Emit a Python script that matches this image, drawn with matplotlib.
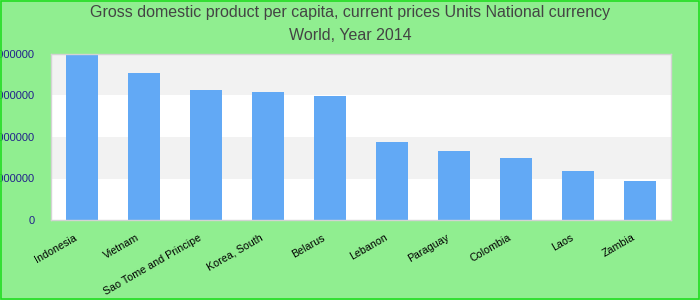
import matplotlib
matplotlib.use('Agg')
import matplotlib.pyplot as plt
from matplotlib.patches import Rectangle
from matplotlib.transforms import ScaledTranslation

# data
countries = ['Indonesia', 'Vietnam', 'Sao Tome and Principe', 'Korea, South', 'Belarus',
             'Lebanon', 'Paraguay', 'Colombia', 'Laos', 'Zambia']
gdp_per_capita = [39950000, 35400000, 31300000, 30800000, 29900000,
                  18800000, 16600000, 14900000, 11800000, 9400000]
y_ticks = [0, 10000000, 20000000, 30000000, 40000000]

plt.rcParams['font.family'] = ['Liberation Sans', 'DejaVu Sans']

fig = plt.figure(figsize=(7, 3), dpi=100, facecolor='#90ee90')
ax = fig.add_axes([51 / 700, 80 / 300, 620 / 700, 166 / 300])
ax.set_facecolor('white')

# alternating horizontal bands
for i in range(len(y_ticks) - 1):
    if i % 2 == 1:
        ax.axhspan(y_ticks[i], y_ticks[i + 1], color='#f2f2f2', zorder=0, lw=0)

x = range(len(countries))
ax.bar(x, gdp_per_capita, width=0.52, color='#62a9f5', zorder=2)

ax.set_xlim(-0.5, len(countries) - 0.5)
ax.set_ylim(0, 40000000)
ax.set_yticks(y_ticks)
ax.set_yticklabels([str(v) for v in y_ticks], fontsize=8, color='#22228b')
ax.set_xticks(list(x))
ax.set_xticklabels(countries, rotation=30, ha='right', rotation_mode='anchor', fontsize=7.7)
ax.tick_params(axis='both', length=0)
ax.tick_params(axis='y', pad=12)
ax.tick_params(axis='x', pad=9)

# shift the slanted labels a little to the left, as in the reference
shift = ScaledTranslation(-0.08, 0, fig.dpi_scale_trans)
for lbl in ax.get_xticklabels():
    lbl.set_transform(lbl.get_transform() + shift)

for s in ax.spines.values():
    s.set_color('#d3d3d3')
    s.set_linewidth(1)

fig.text(0.5, 1 - 13 / 300, 'Gross domestic product per capita, current prices Units National currency',
         ha='center', va='center', fontsize=11.5, color='#444444')
fig.text(0.5, 1 - 36 / 300, 'World, Year 2014', ha='center', va='center', fontsize=11.5, color='#444444')

# outer border
fig.patches.append(Rectangle((0.001, 0.002), 0.998, 0.996, transform=fig.transFigure,
                             fill=False, edgecolor='#22dd22', linewidth=1.2))

fig.savefig('out.png', dpi=100, facecolor=fig.get_facecolor())
